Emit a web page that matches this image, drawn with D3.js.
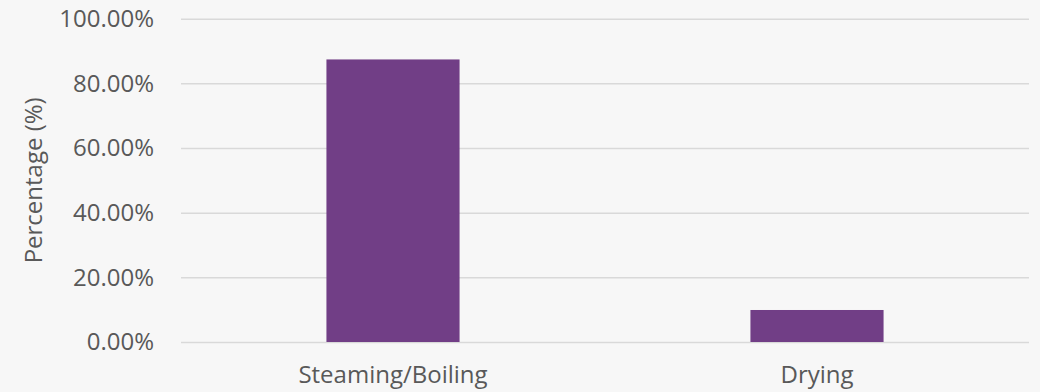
<!DOCTYPE html>
<html>
<head>
<meta charset="utf-8">
<script src="https://cdn.jsdelivr.net/npm/d3@7"></script>
<style>
  html, body { margin: 0; padding: 0; background: #f7f7f7; }
  svg { display: block; }
  text { font-family: "Open Sans", "Noto Sans", sans-serif; fill: #595959; }
</style>
</head>
<body>
<svg id="chart" width="1040" height="392"></svg>
<script>
// Share of each processing method
const categories = ["Steaming/Boiling", "Drying"];
const values = [0.874, 0.099];
const yTicks = [0, 0.2, 0.4, 0.6, 0.8, 1.0];
const yTitle = "Percentage (%)";

const svg = d3.select("#chart");
const W = 1040, H = 392;
const plot = { left: 181, right: 1029, top: 18.7, bottom: 342 };

svg.append("rect").attr("width", W).attr("height", H).attr("fill", "#f7f7f7");

const x = d3.scaleBand()
  .domain(categories)
  .range([plot.left, plot.right])
  .paddingInner(0.686)
  .paddingOuter(0.343);

const y = d3.scaleLinear()
  .domain([0, 1])
  .range([plot.bottom, plot.top]);

// Horizontal gridlines with percentage labels
const yAxis = d3.axisLeft(y)
  .tickValues(yTicks)
  .tickFormat(d3.format(".2%"))
  .tickSize(-(plot.right - plot.left))
  .tickPadding(27);

const gy = svg.append("g")
  .attr("transform", `translate(${plot.left},0)`)
  .call(yAxis);
gy.select(".domain").remove();
gy.selectAll(".tick line").attr("stroke", "#d9d9d9").attr("stroke-width", 1.5);
gy.selectAll(".tick text")
  .attr("font-size", 24)
  .attr("fill", "#595959")
  .style("font-family", "'Open Sans', sans-serif");

// Bars
svg.append("g")
  .selectAll("rect")
  .data(values)
  .join("rect")
  .attr("x", (d, i) => x(categories[i]))
  .attr("width", x.bandwidth())
  .attr("y", d => y(d))
  .attr("height", d => y(0) - y(d))
  .attr("fill", "#713e86");

// Category labels
const xAxis = d3.axisBottom(x).tickSize(0).tickPadding(24);
const gx = svg.append("g")
  .attr("transform", `translate(0,${plot.bottom})`)
  .call(xAxis);
gx.select(".domain").remove();
gx.selectAll(".tick text")
  .attr("font-size", 24)
  .attr("fill", "#595959")
  .style("font-family", "'Open Sans', sans-serif");

// Axis title
svg.append("text")
  .attr("transform", `translate(42,${(plot.top + plot.bottom) / 2}) rotate(-90)`)
  .attr("text-anchor", "middle")
  .attr("font-size", 24)
  .text(yTitle);
</script>
</body>
</html>
